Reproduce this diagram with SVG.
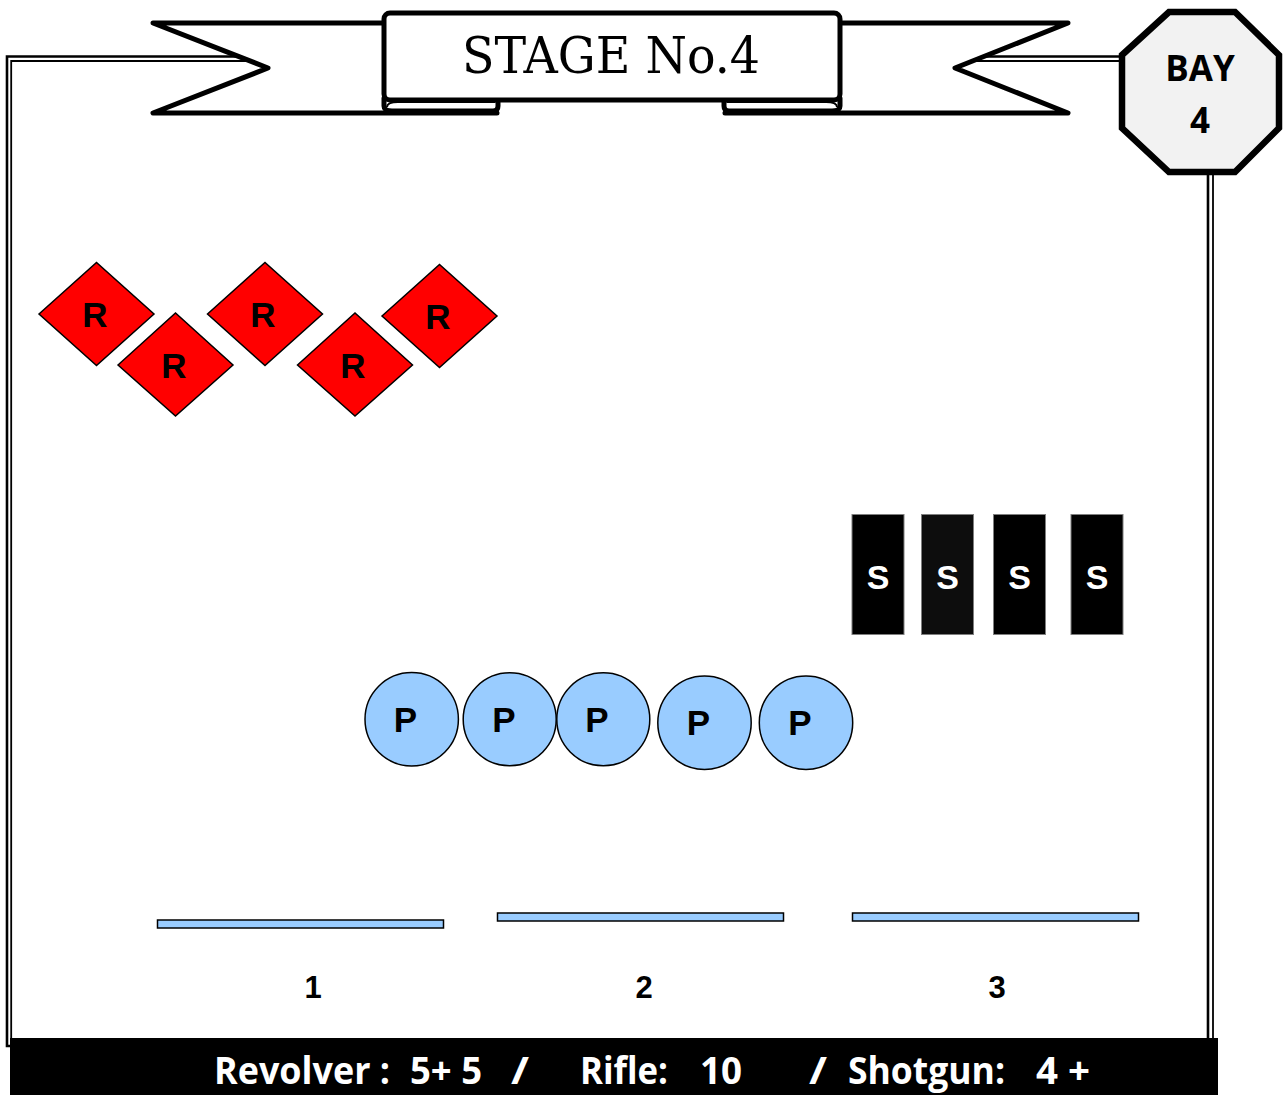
<svg xmlns="http://www.w3.org/2000/svg" width="1285" height="1095" viewBox="0 0 1285 1095">
<style>
.ribbon{fill:#fff;stroke:#000;stroke-width:5;stroke-linejoin:round;stroke-linecap:round}
.dia{fill:#ff0000;stroke:#000;stroke-width:1.5}
.dlab{font-family:"Liberation Sans",Arial,sans-serif;font-weight:bold;font-size:35px;fill:#000;text-anchor:middle}
.srect{fill:#000;stroke:#7f7f7f;stroke-width:1}
.slab{font-family:"Liberation Sans",Arial,sans-serif;font-weight:bold;font-size:34px;fill:#fff;text-anchor:middle}
.circ{fill:#99ccff;stroke:#000;stroke-width:1.5}
.bar{fill:#99ccff;stroke:#000;stroke-width:1.5}
.num{font-family:"Liberation Sans",Arial,sans-serif;font-weight:bold;font-size:31px;fill:#000;text-anchor:middle}
.foot{font-family:"Open Sans","Liberation Sans",sans-serif;font-weight:bold;font-size:38px;fill:#fff}
.bay{font-family:"Open Sans","Liberation Sans",sans-serif;font-weight:bold;font-size:35px;fill:#000;text-anchor:middle}
</style>
<rect width="1285" height="1095" fill="#fff"/>
<g id="frame" fill="none">
<path d="M1125,56.5 H7 V1046 H1208 V170" stroke="#000" stroke-width="2.6"/>
<path d="M1125,61 H11.2 V1042 H1213 V170" stroke="#000" stroke-width="1.8"/>
</g>
<g id="banner">
<path class="ribbon" d="M386,23 H153 L268,68 L153,113 H497"/>
<path class="ribbon" d="M838,23 H1068 L955,68 L1068,113 H725"/>
<path class="ribbon" d="M384,98 V106 Q384,111 392,111 H493 Q498,111 498,106 V100 Z"/>
<path class="ribbon" d="M840,98 V106 Q840,111 832,111 H729 Q724,111 724,106 V100 Z"/>
<path d="M495,102 H398 Q387,102 387,107" fill="none" stroke="#000" stroke-width="2"/>
<path d="M727,102 H826 Q837,102 837,107" fill="none" stroke="#000" stroke-width="2"/>
<rect class="ribbon" x="384" y="13" width="456" height="87" rx="6"/>
<text x="611" y="73" font-family="'DejaVu Serif','Liberation Serif',serif" font-size="50" text-anchor="middle" textLength="298" lengthAdjust="spacingAndGlyphs">STAGE No.4</text>
</g>
<g id="bay">
<polygon points="1169,12 1235,12 1279,55 1279,128 1235,172 1169,172 1122,128 1122,55" fill="#f2f2f2" stroke="#000" stroke-width="6.5" stroke-linejoin="miter"/>
<text class="bay" x="1200" y="81">BAY</text>
<text class="bay" x="1200" y="133">4</text>
</g>
<g id="rifle-targets">
<g id="r1"><polygon class="dia" points="39,314 96.5,262.5 154,314 96.5,365.5"/><text class="dlab" x="95" y="327">R</text></g>
<g id="r2"><polygon class="dia" points="118,365 175.5,313 233,365 175.5,416"/><text class="dlab" x="174" y="378">R</text></g>
<g id="r3"><polygon class="dia" points="207.5,314 265,262.5 322.5,314 265,365.5"/><text class="dlab" x="263" y="327">R</text></g>
<g id="r4"><polygon class="dia" points="297.5,365 355,313 412.5,365 355,416"/><text class="dlab" x="353" y="378">R</text></g>
<g id="r5"><polygon class="dia" points="382,316 439.5,264.5 497,316 439.5,367.5"/><text class="dlab" x="438" y="329">R</text></g>
</g>
<g id="shotgun-targets">
<g id="s1"><rect class="srect" x="852" y="514.5" width="52" height="120"/><text class="slab" x="878" y="589">S</text></g>
<g id="s2"><rect class="srect" x="921.5" y="514.5" width="52" height="120" style="fill:#0d0d0d"/><text class="slab" x="947.5" y="589">S</text></g>
<g id="s3"><rect class="srect" x="993.5" y="514.5" width="52" height="120"/><text class="slab" x="1019.5" y="589">S</text></g>
<g id="s4"><rect class="srect" x="1071" y="514.5" width="52" height="120"/><text class="slab" x="1097" y="589">S</text></g>
</g>
<g id="pistol-targets">
<g id="p1"><circle class="circ" cx="411.7" cy="719.3" r="46.7"/><text class="dlab" x="405.5" y="731.5">P</text></g>
<g id="p2"><circle class="circ" cx="509.7" cy="719.3" r="46.5"/><text class="dlab" x="504" y="731.5">P</text></g>
<g id="p3"><circle class="circ" cx="603.3" cy="719.3" r="46.5"/><text class="dlab" x="597" y="731.5">P</text></g>
<g id="p4"><circle class="circ" cx="704.5" cy="722.7" r="46.7"/><text class="dlab" x="698.5" y="735">P</text></g>
<g id="p5"><circle class="circ" cx="806" cy="722.7" r="46.7"/><text class="dlab" x="800" y="735">P</text></g>
</g>
<g id="positions">
<g id="pos1"><rect class="bar" x="157.5" y="920" width="286" height="8"/><text class="num" x="313" y="998">1</text></g>
<g id="pos2"><rect class="bar" x="497.5" y="913" width="286" height="8"/><text class="num" x="644" y="998">2</text></g>
<g id="pos3"><rect class="bar" x="852.5" y="913" width="286" height="8"/><text class="num" x="997" y="998">3</text></g>
</g>
<g id="footer">
<rect x="10" y="1038" width="1208" height="57" fill="#000"/>
<text class="foot" x="214" y="1084" textLength="176" lengthAdjust="spacingAndGlyphs">Revolver :</text>
<text class="foot" x="410" y="1084" textLength="72" lengthAdjust="spacingAndGlyphs">5+ 5</text>
<text class="foot" x="511" y="1084" textLength="18" lengthAdjust="spacingAndGlyphs">/</text>
<text class="foot" x="580" y="1084" textLength="88" lengthAdjust="spacingAndGlyphs">Rifle:</text>
<text class="foot" x="700" y="1084" textLength="42" lengthAdjust="spacingAndGlyphs">10</text>
<text class="foot" x="809" y="1084" textLength="18" lengthAdjust="spacingAndGlyphs">/</text>
<text class="foot" x="848" y="1084" textLength="157" lengthAdjust="spacingAndGlyphs">Shotgun:</text>
<text class="foot" x="1036" y="1084" textLength="54" lengthAdjust="spacingAndGlyphs">4 +</text>
</g>
</svg>
